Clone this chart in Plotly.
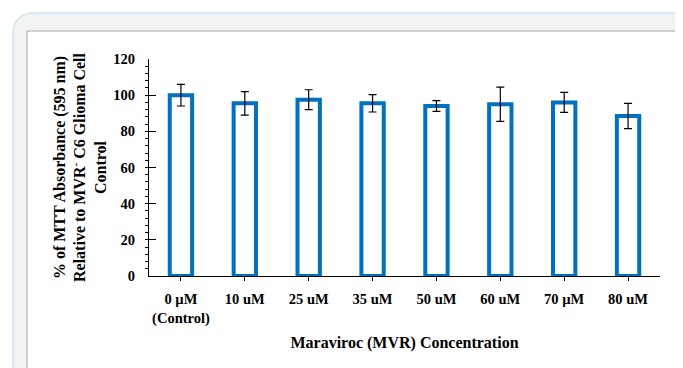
import plotly.graph_objects as go

categories = ["0 µM<br>(Control)", "10 uM", "25 uM", "35 uM", "50 uM", "60 uM", "70 µM", "80 uM"]
values = [100, 95.5, 97.5, 95.5, 94, 95, 96, 88.5]
errors = [6, 6.5, 5.5, 4.8, 3, 9.5, 5.5, 7]
y_ticks = [0, 20, 40, 60, 80, 100, 120]

# page body adds an 8px offset; work in target-page pixels and subtract it
OFF = 8
W, H = 683, 368
L, R, T, B = 149 - OFF, 683 - 660 + OFF, 59 - OFF, 368 - 276 + OFF
pw, ph = W - L - R, H - T - B

def px(x):
    return (x - OFF - L) / pw

def py(y):
    return (H - B - (y - OFF)) / ph

def rounded_rect(x0, y0, x1, y1, r):
    return (f"M {px(x0+r)} {py(y0)} L {px(x1-r)} {py(y0)} "
            f"Q {px(x1)} {py(y0)} {px(x1)} {py(y0+r)} L {px(x1)} {py(y1-r)} "
            f"Q {px(x1)} {py(y1)} {px(x1-r)} {py(y1)} L {px(x0+r)} {py(y1)} "
            f"Q {px(x0)} {py(y1)} {px(x0)} {py(y1-r)} L {px(x0)} {py(y0+r)} "
            f"Q {px(x0)} {py(y0)} {px(x0+r)} {py(y0)} Z")

fig = go.Figure()
fig.add_trace(go.Bar(
    x=list(range(len(categories))), y=values, width=0.35,
    marker=dict(color="white", line=dict(color="#0070C0", width=4)),
    error_y=dict(type="data", array=errors, color="black", thickness=1.2, width=4),
    showlegend=False,
))

font_fam = "Liberation Serif"
fig.update_layout(
    width=W, height=H,
    margin=dict(l=L, r=R, t=T, b=B),
    paper_bgcolor="white", plot_bgcolor="rgba(0,0,0,0)",
    font=dict(family=font_fam, color="black"),
    shapes=[
        dict(type="path", xref="paper", yref="paper", layer="below",
             path=rounded_rect(13, 13, 710, 420, 22),
             fillcolor="#f2f2f2", line=dict(color="#cfe3f0", width=1.5)),
        dict(type="rect", xref="paper", yref="paper", layer="below",
             x0=px(27), x1=px(675.5), y0=py(31), y1=py(420),
             fillcolor="white", line=dict(color="#a6a6a6", width=1)),
    ],
)
fig.update_xaxes(
    range=[-0.5, 7.5], tickmode="array", tickvals=list(range(len(categories))), ticktext=categories,
    showline=True, linecolor="black", linewidth=1, ticks="outside", ticklen=4, tickcolor="black",
    ticklabelstandoff=6,
    showgrid=False, zeroline=False,
    tickfont=dict(family=font_fam, size=14.5, color="black", weight="bold"),
    title=dict(text="<b>Maraviroc (MVR) Concentration</b>", font=dict(family=font_fam, size=16), standoff=10),
)
fig.update_yaxes(
    range=[0, 120], tickvals=y_ticks, showline=True, linecolor="black", linewidth=1,
    ticks="inside", ticklen=7, tickcolor="black", ticklabelstandoff=10,
    minor=dict(ticks="outside", ticklen=3, dtick=4, tickcolor="black", showgrid=False),
    showgrid=False, zeroline=False,
    tickfont=dict(family=font_fam, size=14.5, color="black", weight="bold"),
    title=dict(text="<b>% of MTT Absorbance (595 nm)<br>Relative to MVR<sup>-</sup> C6 Glioma Cell<br>Control</b>",
               font=dict(family=font_fam, size=16), standoff=2),
)
fig.write_html("out.html")
